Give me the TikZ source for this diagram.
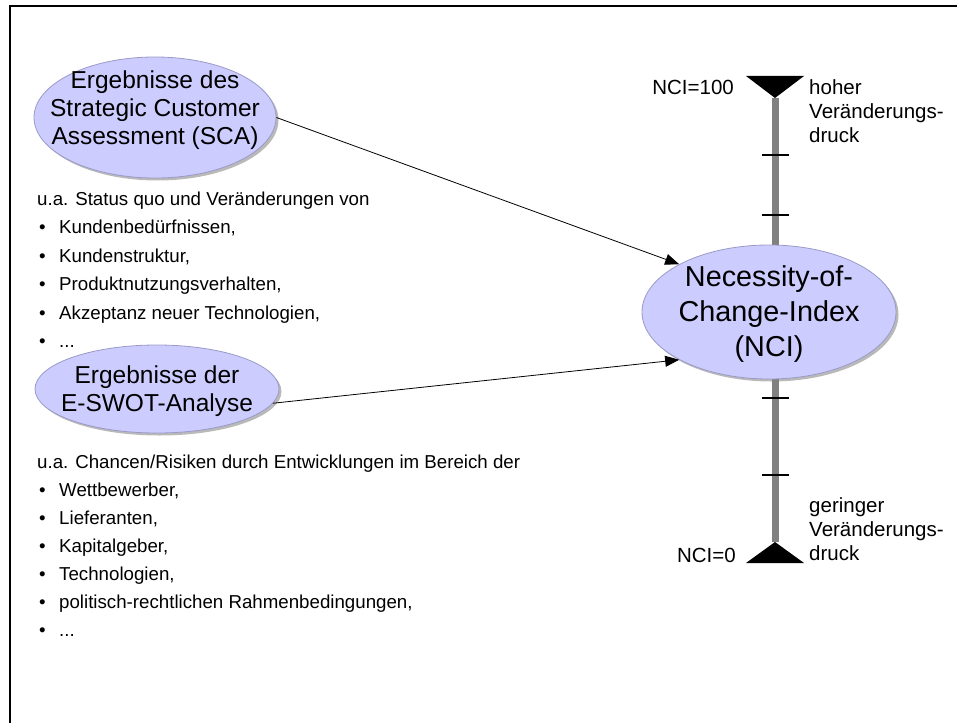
\documentclass[tikz,border=0pt]{standalone}
\usepackage{fontspec}
\setmainfont{Liberation Sans}
\usetikzlibrary{shapes.geometric,arrows.meta,shadows}

\definecolor{bubblefill}{HTML}{CCCCFF}
\definecolor{bubbleedge}{HTML}{9A9AC8}
\definecolor{scalebar}{HTML}{808080}

\begin{document}
\begin{tikzpicture}[x=1pt,y=-1pt,
  bubble/.style={ellipse, draw=bubbleedge, line width=0.8pt, fill=bubblefill,
    inner sep=0pt,
    drop shadow={shadow xshift=2.5pt, shadow yshift=-2.5pt, fill=black!50, opacity=0.55}},
  bubbletext/.style={align=center, inner sep=0pt, font=\fontsize{24.5}{28}\selectfont},
  listtext/.style={anchor=base west, inner sep=0pt, font=\fontsize{18.7}{22}\selectfont},
  scaletext/.style={inner sep=0pt, font=\fontsize{20.5}{24}\selectfont},
  flow/.style={line width=0.8pt, -{Triangle[length=14pt,width=11pt]}},
  tick/.style={line width=2.5pt},
]
\useasboundingbox (0,0) rectangle (957,722);

% frame lines
\draw[line width=2pt] (10,724) -- (10,6) -- (959,6);

% scale bar
\coordinate (topTip) at (775,98);
\coordinate (bottomTip) at (775,542);
\draw[line width=7pt, scalebar] (topTip) -- (bottomTip);
\fill (746,76) -- (804,76) -- (topTip) -- cycle;
\fill (746,563) -- (804,563) -- (bottomTip) -- cycle;
\draw[tick] (762,155) -- (789,155);
\draw[tick] (762,215) -- (789,215);
\draw[tick] (762,398) -- (789,398);
\draw[tick] (762,475) -- (789,475);

% scale labels
\node[scaletext, anchor=base east] (top) at (734,95) {NCI=100};
\node[scaletext, anchor=base west] (topA) at (809,95) {hoher};
\node[scaletext, anchor=base west] (topB) at (809,119) {Veränderungs-};
\node[scaletext, anchor=base west] (topC) at (809,143) {druck};
\node[scaletext, anchor=base east] (bot) at (736,562) {NCI=0};
\node[scaletext, anchor=base west] (botA) at (809,512) {geringer};
\node[scaletext, anchor=base west] (botB) at (809,536) {Veränderungs-};
\node[scaletext, anchor=base west] (botC) at (809,560) {druck};

% bubbles
\node[bubble, minimum width=242pt, minimum height=121pt] (sca) at (155,117.5) {};
\node[bubbletext] (scaT) at (155,110) {Ergebnisse des\\Strategic Customer\\Assessment (SCA)};

\node[bubble, minimum width=244pt, minimum height=88pt] (eswot) at (157,389) {};
\node[bubbletext] (eswotT) at (157,391) {Ergebnisse der\\E-SWOT-Analyse};

\node[bubble, minimum width=254pt, minimum height=134pt] (nci) at (769,312) {};
\node[bubbletext, font=\fontsize{28.8}{35}\selectfont] (nciT) at (769,314) {Necessity-of-\\Change-Index\\(NCI)};

% connectors
\draw[flow] (sca.east) -- (nci.152);
\draw[flow] (eswot.-7) -- (nci.208);

% first list
\node[listtext] (l1) at (37,205) {u.a. Status quo und Veränderungen von};
\foreach \y/\t [count=\i] in {233.5/{Kundenbedürfnissen,},262/{Kundenstruktur,},290.5/{Produktnutzungsverhalten,},319/{Akzeptanz neuer Technologien,},347.5/{...}}{
  \node[listtext] (b1\i) at (39,\y) {•};
  \node[listtext] (t1\i) at (59,\y) {\t};
}

% second list
\node[listtext] (l2) at (37,468.5) {u.a. Chancen/Risiken durch Entwicklungen im Bereich der};
\foreach \y/\t [count=\i] in {496.5/{Wettbewerber,},524.5/{Lieferanten,},552.5/{Kapitalgeber,},580.5/{Technologien,},608.5/{politisch-rechtlichen Rahmenbedingungen,},636.5/{...}}{
  \node[listtext] (b2\i) at (39,\y) {•};
  \node[listtext] (t2\i) at (59,\y) {\t};
}
\end{tikzpicture}
\end{document}
